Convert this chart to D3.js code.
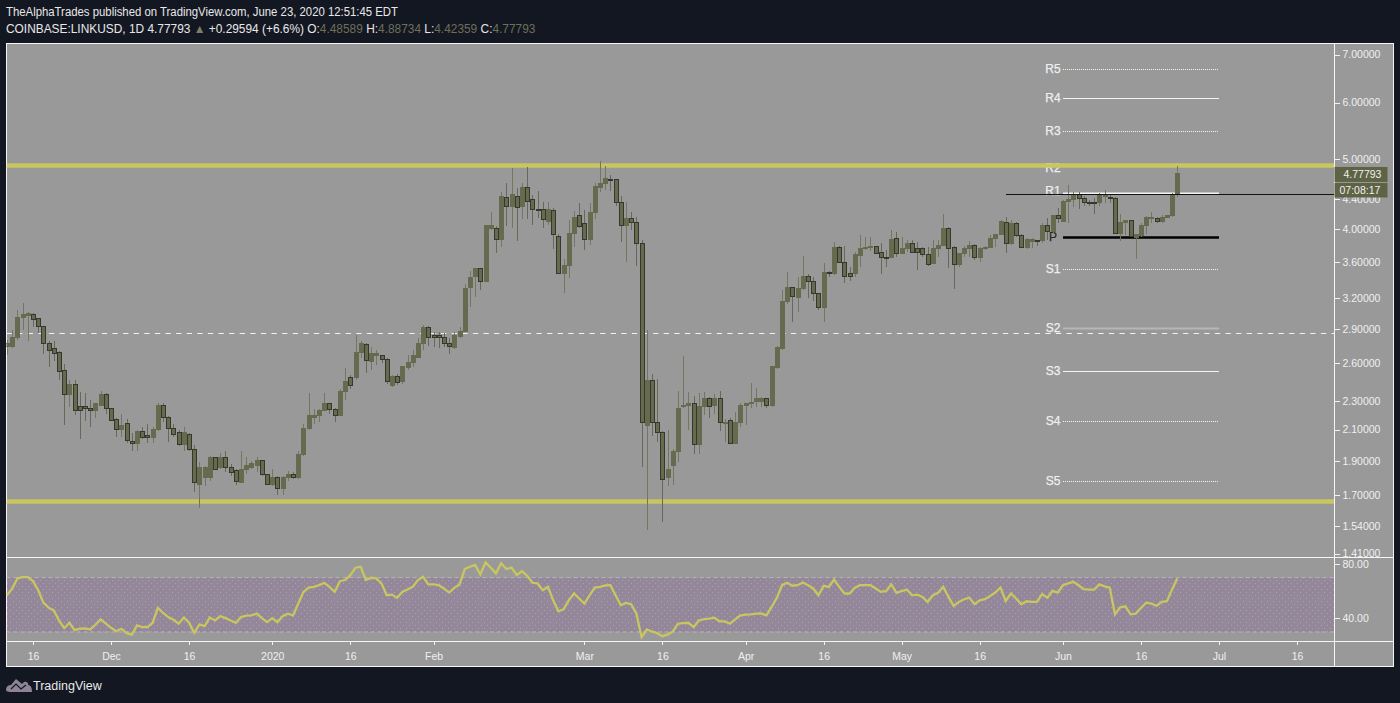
<!DOCTYPE html>
<html>
<head>
<meta charset="utf-8">
<script src="https://cdn.jsdelivr.net/npm/d3@7"></script>
<style>
html, body { margin: 0; padding: 0; background: #131722; overflow: hidden; }
svg { display: block; }
text { font-family: "Liberation Sans", Arial, sans-serif; }
.axis path, .axis line { stroke: #f2f2f2; shape-rendering: crispEdges; }
.axis text { fill: #f0f0f0; font-size: 10.5px; font-family: "Liberation Sans", Arial, sans-serif; }
</style>
</head>
<body>
<div id="chart"></div>
<script>
// daily LINKUSD candles, first bar is 2019-11-11
var opens = [
    2.74,2.74,2.82,3.01,3.03,3.04,3.00,2.92,2.77,2.72,
    2.69,2.54,2.35,2.43,2.26,2.26,2.25,2.23,2.27,2.35,
    2.25,2.17,2.10,2.14,2.02,2.01,2.09,2.06,2.05,2.10,
    2.27,2.18,2.11,2.08,2.00,2.07,1.97,1.76,1.80,1.80,
    1.92,1.86,1.92,1.86,1.84,1.77,1.85,1.86,1.87,1.90,
    1.82,1.76,1.80,1.74,1.80,1.82,1.80,1.94,2.11,2.18,
    2.20,2.23,2.28,2.24,2.20,2.37,2.48,2.48,2.69,2.76,
    2.61,2.66,2.66,2.63,2.42,2.49,2.45,2.56,2.60,2.65,
    2.77,2.91,2.84,2.84,2.82,2.77,2.73,2.83,2.88,3.31,
    3.43,3.52,3.38,4.00,4.00,3.87,4.43,4.30,4.44,4.30,
    4.56,4.39,4.26,4.26,4.09,4.24,3.90,3.47,3.56,3.94,
    4.17,4.07,3.86,4.22,4.57,4.63,4.69,4.69,4.35,4.04,
    4.14,4.08,3.82,2.13,2.46,2.15,2.08,1.80,1.87,1.96,
    2.26,2.27,2.28,2.00,2.26,2.32,2.27,2.32,2.15,2.16,
    2.01,2.15,2.27,2.28,2.30,2.30,2.32,2.27,2.56,2.72,
    3.17,3.31,3.21,3.30,3.43,3.38,3.25,3.11,3.48,3.46,
    3.77,3.59,3.46,3.46,3.67,3.75,3.77,3.78,3.71,3.65,
    3.65,3.88,3.70,3.75,3.82,3.75,3.75,3.68,3.58,3.76,
    3.79,4.01,3.77,3.57,3.69,3.76,3.79,3.65,3.75,3.77,
    3.88,3.93,4.08,3.82,4.07,3.92,3.77,3.84,3.85,3.85,
    4.04,3.96,4.17,4.10,4.37,4.39,4.47,4.41,4.35,4.35,
    4.35,4.44,4.43,4.41,3.94,4.08,4.11,3.89,3.92,4.04,
    4.14,4.13,4.09,4.15,4.17,4.48589
];
var closes = [
    2.77,2.82,3.01,3.04,3.05,2.99,2.92,2.77,2.71,2.68,
    2.53,2.35,2.43,2.23,2.23,2.25,2.23,2.28,2.35,2.25,
    2.16,2.10,2.13,2.03,2.01,2.09,2.05,2.05,2.10,2.27,
    2.18,2.11,2.07,2.00,2.08,1.97,1.77,1.86,1.86,1.92,
    1.85,1.92,1.86,1.83,1.78,1.85,1.87,1.88,1.90,1.82,
    1.76,1.80,1.74,1.80,1.82,1.80,1.94,2.11,2.20,2.20,
    2.23,2.28,2.24,2.20,2.37,2.45,2.42,2.69,2.77,2.62,
    2.68,2.68,2.63,2.45,2.49,2.44,2.57,2.60,2.66,2.77,
    2.91,2.82,2.82,2.82,2.77,2.74,2.84,2.88,3.30,3.42,
    3.52,3.38,4.04,4.04,3.87,4.44,4.30,4.46,4.29,4.56,
    4.37,4.26,4.25,4.12,4.25,3.93,3.47,3.55,3.94,4.15,
    4.03,3.86,4.22,4.58,4.63,4.70,4.68,4.35,4.04,4.14,
    4.08,3.82,2.15,2.46,2.15,2.08,1.79,1.85,1.96,2.25,
    2.27,2.28,2.00,2.26,2.32,2.26,2.32,2.15,2.15,2.01,
    2.15,2.27,2.28,2.29,2.32,2.32,2.27,2.57,2.73,3.17,
    3.31,3.22,3.30,3.43,3.38,3.25,3.11,3.48,3.46,3.77,
    3.59,3.43,3.43,3.68,3.76,3.77,3.78,3.70,3.65,3.64,
    3.87,3.70,3.75,3.81,3.71,3.71,3.68,3.57,3.76,3.79,
    4.00,3.76,3.57,3.69,3.76,3.79,3.65,3.76,3.77,3.88,
    3.93,4.09,3.82,4.07,3.91,3.77,3.86,3.86,3.84,4.04,
    3.97,4.17,4.13,4.36,4.39,4.47,4.41,4.35,4.34,4.34,
    4.46,4.47,4.41,3.94,4.08,4.11,3.90,3.93,4.04,4.15,
    4.15,4.09,4.15,4.17,4.47,4.77793
];
var highs = [
    2.80,2.89,3.08,3.15,3.06,3.05,3.00,2.93,2.79,2.79,
    2.70,2.59,2.46,2.46,2.37,2.36,2.31,2.29,2.38,2.36,
    2.25,2.18,2.21,2.17,2.08,2.10,2.12,2.14,2.12,2.29,
    2.29,2.19,2.14,2.10,2.12,2.08,2.00,1.89,1.87,1.93,
    1.92,1.95,1.96,1.88,1.85,1.96,1.92,1.90,1.92,1.90,
    1.82,1.85,1.81,1.81,1.84,1.83,1.96,2.14,2.36,2.24,
    2.24,2.36,2.29,2.25,2.39,2.56,2.50,2.84,2.79,2.77,
    2.74,2.71,2.67,2.64,2.50,2.51,2.57,2.67,2.71,2.82,
    2.94,2.93,2.87,2.87,2.86,2.82,2.87,2.92,3.35,3.49,
    3.53,3.53,4.05,4.22,4.04,4.50,4.63,4.87,4.56,4.63,
    4.88,4.46,4.52,4.36,4.36,4.28,3.93,3.63,4.12,4.24,
    4.34,4.25,4.34,4.64,4.97,4.90,4.76,4.70,4.44,4.36,
    4.22,4.15,3.86,2.89,2.51,2.47,2.09,2.10,1.97,2.38,
    2.66,2.37,2.34,2.36,2.37,2.33,2.35,2.38,2.17,2.18,
    2.22,2.29,2.29,2.44,2.40,2.33,2.32,2.57,2.75,3.29,
    3.48,3.32,3.43,3.67,3.46,3.43,3.26,3.58,3.49,3.83,
    3.78,3.79,3.54,3.71,3.92,3.89,3.89,3.79,3.82,3.74,
    3.99,3.96,3.89,3.86,3.86,3.83,3.77,3.77,3.86,3.86,
    4.19,4.02,3.78,3.70,3.78,3.85,3.81,3.77,3.79,3.92,
    3.94,4.12,4.16,4.12,4.09,3.93,3.88,3.88,3.86,4.07,
    4.14,4.18,4.27,4.39,4.61,4.50,4.50,4.44,4.39,4.41,
    4.49,4.53,4.46,4.43,4.19,4.12,4.12,3.94,4.08,4.17,
    4.22,4.15,4.18,4.18,4.49,4.88734
];
var lows = [
    2.67,2.73,2.80,2.89,2.79,2.92,2.86,2.68,2.57,2.62,
    2.46,2.13,2.26,2.20,2.04,2.16,2.12,2.18,2.27,2.21,
    2.16,2.05,2.05,2.01,1.96,1.96,2.04,2.01,2.01,2.09,
    2.15,2.02,2.05,1.99,1.96,1.96,1.72,1.63,1.75,1.78,
    1.85,1.85,1.83,1.81,1.76,1.77,1.82,1.85,1.83,1.81,
    1.76,1.75,1.70,1.70,1.78,1.79,1.79,1.93,2.10,2.14,
    2.15,2.23,2.21,2.15,2.19,2.31,2.39,2.46,2.64,2.52,
    2.54,2.58,2.60,2.43,2.41,2.42,2.43,2.54,2.57,2.64,
    2.71,2.75,2.74,2.73,2.74,2.68,2.72,2.82,2.87,3.11,
    3.21,3.29,3.37,3.99,3.70,3.77,4.03,4.01,3.85,4.13,
    4.13,4.05,4.14,4.01,4.05,3.75,3.46,3.26,3.42,3.77,
    4.01,3.74,3.80,4.13,4.50,4.53,4.52,4.31,3.84,3.59,
    3.99,3.55,1.86,1.52,2.06,2.02,1.56,1.75,1.76,1.89,
    2.25,2.10,1.94,1.94,2.20,2.18,2.21,2.09,2.02,2.01,
    2.01,2.12,2.13,2.25,2.26,2.26,2.25,2.26,2.55,2.71,
    3.14,2.97,3.06,3.29,3.20,3.17,3.08,2.97,3.43,3.45,
    3.58,3.36,3.38,3.43,3.54,3.74,3.72,3.69,3.46,3.54,
    3.64,3.65,3.69,3.71,3.70,3.50,3.65,3.55,3.57,3.65,
    3.78,3.53,3.30,3.54,3.65,3.65,3.62,3.60,3.74,3.76,
    3.77,3.92,3.70,3.80,3.89,3.76,3.75,3.76,3.78,3.82,
    3.86,3.94,4.07,4.09,4.07,4.29,4.26,4.31,4.31,4.20,
    4.31,4.34,4.34,3.93,3.85,3.92,3.89,3.63,3.89,3.93,
    4.08,4.08,4.08,4.14,4.15,4.42359
];
var rsiValues = [
    57.0,62.0,69.4,70.4,70.4,67.4,60.7,51.6,47.9,45.9,
    38.5,32.8,36.8,31.4,32.4,32.6,31.9,35.3,39.3,36.1,
    33.1,30.6,32.4,29.1,28.1,34.8,33.6,33.6,36.8,47.7,
    44.0,41.0,39.0,36.1,40.7,36.8,29.4,35.6,34.3,40.7,
    38.5,41.7,40.2,38.5,36.8,41.0,42.0,42.2,43.5,40.2,
    37.3,40.2,37.3,41.7,43.5,42.2,50.9,59.5,62.7,63.2,
    64.4,66.2,63.2,59.5,67.4,68.2,71.8,77.3,78.0,68.2,
    69.9,69.4,65.7,57.0,57.5,55.1,59.5,61.2,63.2,68.2,
    70.6,65.0,65.0,64.4,62.0,59.0,62.5,65.0,76.3,78.0,
    79.3,72.3,81.2,77.3,73.1,80.5,76.3,77.3,71.8,74.8,
    71.4,66.2,65.7,60.7,63.2,53.3,45.2,46.7,53.3,58.3,
    54.6,50.9,57.0,62.7,63.2,64.2,64.4,57.0,49.6,51.4,
    50.4,43.5,26.2,31.9,30.4,29.1,26.9,28.1,30.4,36.1,
    36.6,36.8,33.6,38.5,39.5,39.8,40.5,37.8,37.8,36.1,
    39.3,42.2,42.7,43.0,43.5,43.7,42.2,48.4,55.1,64.4,
    66.2,64.0,64.4,66.4,64.4,62.0,57.0,64.0,63.2,68.6,
    63.2,58.3,58.3,62.5,64.4,64.4,64.4,62.0,59.5,60.0,
    65.0,58.8,60.0,61.2,57.0,57.5,55.8,52.1,57.0,58.8,
    63.2,55.8,49.1,52.1,54.1,55.3,50.4,53.3,54.1,56.5,
    59.0,62.7,52.8,58.3,54.6,50.4,52.6,52.1,52.1,57.8,
    55.3,60.2,59.0,64.4,65.7,66.9,64.4,61.5,61.2,61.2,
    65.0,63.5,62.5,43.0,48.2,48.9,43.0,43.5,47.7,51.6,
    50.9,49.1,52.1,52.6,61.5,69.4
];

var priceTicks = [7, 6, 5, 4.4, 4, 3.6, 3.2, 2.9, 2.6, 2.3, 2.1, 1.9, 1.7, 1.54, 1.41];
var rsiTicks = [80, 40];
var timeTicks = ["2019-11-16", "2019-12-01", "2019-12-16", "2020-01-01", "2020-01-16", "2020-02-01",
    "2020-03-01", "2020-03-16", "2020-04-01", "2020-04-16", "2020-05-01",
    "2020-05-16", "2020-06-01", "2020-06-16", "2020-07-01", "2020-07-16"];
var timeLabels = ["16", "Dec", "16", "2020", "16", "Feb", "Mar", "16", "Apr", "16", "May", "16", "Jun", "16", "Jul", "16"];

var pivotNames = ["R5", "R4", "R3", "R2", "R1", "P", "S1", "S2", "S3", "S4", "S5"];
var pivotValues = [6.68, 6.09, 5.48, 4.91, 4.49, 3.90, 3.52, 2.91, 2.53, 2.16, 1.78];
var rangeLevels = [4.90, 1.667];
var midLevel = 2.865;
var blackLevel = 4.475;

var width = 1400, height = 703;
var paneLeft = 6.5, paneRight = 1393.5, paneTop = 43.5, paneBottom = 666.5;
var axisX = 1334.5, paneSplit = 557.5, timeTop = 641.5;

var svg = d3.select("#chart").append("svg")
    .attr("width", width)
    .attr("height", height);

var defs = svg.append("defs");
defs.append("clipPath").attr("id", "priceClip").append("rect")
    .attr("x", paneLeft).attr("y", paneTop).attr("width", axisX - paneLeft).attr("height", paneSplit - paneTop);

var dots = defs.append("pattern").attr("id", "rsiDots")
    .attr("width", 6).attr("height", 6).attr("patternUnits", "userSpaceOnUse");
dots.append("rect").attr("width", 6).attr("height", 6).attr("fill", "#938799");
dots.append("rect").attr("x", 1).attr("y", 1).attr("width", 1).attr("height", 1).attr("fill", "#a9a2af");
dots.append("rect").attr("x", 4).attr("y", 4).attr("width", 1).attr("height", 1).attr("fill", "#a9a2af");

// page and panes
svg.append("rect").attr("width", width).attr("height", height).attr("fill", "#131722");
svg.append("rect")
    .attr("x", paneLeft).attr("y", paneTop)
    .attr("width", paneRight - paneLeft).attr("height", paneBottom - paneTop)
    .attr("fill", "#999999")
    .attr("stroke", "#f5f5f5");

var parseDay = d3.utcParse("%Y-%m-%d");
var firstDay = parseDay("2019-11-11");
var days = opens.map(function(d, i) {
    return d3.utcDay.offset(firstDay, i);
});

var x = d3.scaleUtc()
    .domain([parseDay("2019-11-16"), parseDay("2020-07-16")])
    .range([33, 1297]);
var y = d3.scaleLog()
    .domain([1.41, 7])
    .range([553.6, 54.5]);
var yRsi = d3.scaleLinear()
    .domain([30, 70])
    .range([632, 577.6]);

var plot = svg.append("g").attr("clip-path", "url(#priceClip)");

// pivot points, R2 and its label sit under the yellow line
var pivotStyles = {
    R5: {w: 1, dash: "1,1", c: "#f4f4f4"},
    R4: {w: 1, dash: null, c: "#f4f4f4"},
    R3: {w: 1, dash: "1,1", c: "#f4f4f4"},
    R2: {w: 1, dash: null, c: "#f4f4f4"},
    R1: {w: 2, dash: null, c: "#f4f4f4"},
    P: {w: 2.5, dash: null, c: "#000000"},
    S1: {w: 1, dash: "1,1", c: "#f4f4f4"},
    S2: {w: 2, dash: null, c: "#b6b6b6"},
    S3: {w: 1, dash: null, c: "#f4f4f4"},
    S4: {w: 1, dash: "1,1", c: "#f4f4f4"},
    S5: {w: 1, dash: "1,1", c: "#f4f4f4"}
};

plot.selectAll("line.pivot")
    .data(pivotNames)
    .enter().append("line")
    .attr("class", "pivot")
    .attr("x1", 1063).attr("x2", 1219)
    .attr("y1", function(d, i) { return Math.round(y(pivotValues[i])) + 0.5; })
    .attr("y2", function(d, i) { return Math.round(y(pivotValues[i])) + 0.5; })
    .attr("stroke", function(d) { return pivotStyles[d].c; })
    .attr("stroke-width", function(d) { return pivotStyles[d].w; })
    .attr("stroke-dasharray", function(d) { return pivotStyles[d].dash; });

plot.selectAll("text.pivot")
    .data(pivotNames)
    .enter().append("text")
    .attr("class", "pivot")
    .attr("x", 1053).attr("text-anchor", "middle")
    .attr("y", function(d, i) {
        var off = d === "R2" ? 7 : (d === "R1" ? 2.5 : 4);
        return y(pivotValues[i]) + off;
    })
    .attr("fill", function(d) { return d === "P" ? "#2a2a2a" : "#efefef"; })
    .attr("stroke", function(d) { return d === "P" ? "#2a2a2a" : "#efefef"; })
    .attr("stroke-width", 0.25)
    .style("font-size", "12px")
    .text(function(d) { return d; });

// yellow range lines and the white dashed middle
plot.selectAll("line.range")
    .data(rangeLevels)
    .enter().append("line")
    .attr("class", "range")
    .attr("x1", paneLeft).attr("x2", axisX)
    .attr("y1", function(d) { return y(d); })
    .attr("y2", function(d) { return y(d); })
    .attr("stroke", "#c9c660")
    .attr("stroke-width", 4.5);

plot.append("line")
    .attr("x1", paneLeft).attr("x2", axisX)
    .attr("y1", Math.round(y(midLevel)) + 0.5).attr("y2", Math.round(y(midLevel)) + 0.5)
    .attr("stroke", "#f2f2f2")
    .attr("stroke-dasharray", "5.3,5.3");

// candles
var candles = plot.selectAll("g.candle")
    .data(days)
    .enter().append("g")
    .attr("class", "candle");

function isUp(i) {
    return closes[i] >= opens[i];
}

candles.append("line")
    .attr("x1", function(d) { return Math.round(x(d)) + 0.5; })
    .attr("x2", function(d) { return Math.round(x(d)) + 0.5; })
    .attr("y1", function(d, i) { return y(highs[i]); })
    .attr("y2", function(d, i) { return y(lows[i]); })
    .attr("stroke", function(d, i) { return isUp(i) ? "#747760" : "#66695a"; })
    .attr("shape-rendering", "crispEdges");

candles.append("rect")
    .attr("x", function(d) { return Math.round(x(d)) - 1.5; })
    .attr("width", 4)
    .attr("y", function(d, i) { return y(Math.max(opens[i], closes[i])); })
    .attr("height", function(d, i) { return Math.max(1, y(Math.min(opens[i], closes[i])) - y(Math.max(opens[i], closes[i]))); })
    .attr("fill", "#666a4e")
    .attr("stroke", function(d, i) { return isUp(i) ? "#666a4e" : "#35382a"; })
    .attr("shape-rendering", "crispEdges");

// black level line on top of the candles
plot.append("line")
    .attr("x1", 1006).attr("x2", axisX)
    .attr("y1", Math.round(y(blackLevel)) + 0.5).attr("y2", Math.round(y(blackLevel)) + 0.5)
    .attr("stroke", "#111111");

// rsi pane
svg.append("rect")
    .attr("x", paneLeft + 0.5).attr("width", axisX - paneLeft - 0.5)
    .attr("y", yRsi(70)).attr("height", yRsi(30) - yRsi(70))
    .attr("fill", "url(#rsiDots)");

[70, 30].forEach(function(level) {
    svg.append("line")
        .attr("x1", paneLeft).attr("x2", axisX)
        .attr("y1", yRsi(level)).attr("y2", yRsi(level))
        .attr("stroke", "#b8b4ba")
        .attr("stroke-dasharray", "4,3");
});

var rsiLine = d3.line()
    .x(function(d, i) { return x(days[i]); })
    .y(function(d) { return yRsi(d); });

svg.append("path")
    .datum(rsiValues)
    .attr("d", rsiLine)
    .attr("fill", "none")
    .attr("stroke", "#c9c660")
    .attr("stroke-width", 2.3);

// pane separators
[paneSplit, timeTop].forEach(function(py) {
    svg.append("line")
        .attr("x1", paneLeft).attr("x2", paneRight)
        .attr("y1", py).attr("y2", py)
        .attr("stroke", "#f5f5f5");
});
svg.append("line")
    .attr("x1", axisX).attr("x2", axisX)
    .attr("y1", paneTop).attr("y2", paneBottom)
    .attr("stroke", "#f5f5f5");

// axes
var priceAxis = d3.axisRight(y)
    .tickValues(priceTicks)
    .tickSize(5)
    .tickPadding(3)
    .tickFormat(d3.format(".5f"));
svg.append("g")
    .attr("class", "axis")
    .attr("transform", "translate(" + axisX + ",0)")
    .call(priceAxis)
    .select(".domain").remove();

var rsiAxis = d3.axisRight(yRsi)
    .tickValues(rsiTicks)
    .tickSize(5)
    .tickPadding(3)
    .tickFormat(d3.format(".2f"));
svg.append("g")
    .attr("class", "axis")
    .attr("transform", "translate(" + axisX + ",0)")
    .call(rsiAxis)
    .select(".domain").remove();

var timeAxis = d3.axisBottom(x)
    .tickValues(timeTicks.map(parseDay))
    .tickSize(3)
    .tickPadding(8)
    .tickFormat(function(d, i) { return timeLabels[i]; });
svg.append("g")
    .attr("class", "axis")
    .attr("transform", "translate(0," + timeTop + ")")
    .call(timeAxis)
    .select(".domain").remove();

// last price and countdown labels
var lastClose = closes[closes.length - 1];
var lastY = y(lastClose);
svg.append("rect")
    .attr("x", axisX).attr("y", lastY - 6.5)
    .attr("width", 53).attr("height", 15)
    .attr("fill", "#5f6346");
svg.append("rect")
    .attr("x", axisX).attr("y", lastY + 9.5)
    .attr("width", 53).attr("height", 14.5)
    .attr("fill", "#5f6346");
svg.append("text")
    .attr("x", axisX + 9).attr("y", lastY + 4.5)
    .attr("fill", "#f0f0f0").style("font-size", "10.5px")
    .text(d3.format(".5f")(lastClose));
svg.append("text")
    .attr("x", axisX + 5).attr("y", lastY + 20.5)
    .attr("fill", "#f0f0f0").style("font-size", "10.5px")
    .text("07:08:17");

// header
svg.append("text")
    .attr("x", 6).attr("y", 16)
    .attr("fill", "#e8e8e8")
    .attr("textLength", 392)
    .attr("lengthAdjust", "spacingAndGlyphs")
    .style("font-size", "12.5px")
    .text("TheAlphaTrades published on TradingView.com, June 23, 2020 12:51:45 EDT");

var info = svg.append("text")
    .attr("x", 6).attr("y", 33)
    .style("font-size", "11.9px")
    .attr("fill", "#e8e8e8");
info.append("tspan").text("COINBASE:LINKUSD, 1D 4.77793 ");
info.append("tspan").attr("fill", "#7c7f68").text("\u25B2");
info.append("tspan").text(" +0.29594 (+6.6%) O:");
info.append("tspan").attr("fill", "#6d7056").text("4.48589");
info.append("tspan").text(" H:");
info.append("tspan").attr("fill", "#6d7056").text("4.88734");
info.append("tspan").text(" L:");
info.append("tspan").attr("fill", "#6d7056").text("4.42359");
info.append("tspan").text(" C:");
info.append("tspan").attr("fill", "#6d7056").text("4.77793");

// footer logo
svg.append("path")
    .attr("d", "M6,690 C6,686 9,685 11,685 L16,679 L22,684 L24,682 C27,681 29,684 28,685 C31,685 32,688 32,692 L10,692 C8,692 6,691 6,690 Z")
    .attr("fill", "#8d8597");
svg.append("path")
    .attr("d", "M11,689 L16,684 L21,689 L26,685")
    .attr("fill", "none")
    .attr("stroke", "#131722")
    .attr("stroke-width", 1.2);
svg.append("text")
    .attr("x", 33).attr("y", 690)
    .attr("fill", "#e8e8e8")
    .style("font-size", "12.5px")
    .text("TradingView");
</script>
</body>
</html>
